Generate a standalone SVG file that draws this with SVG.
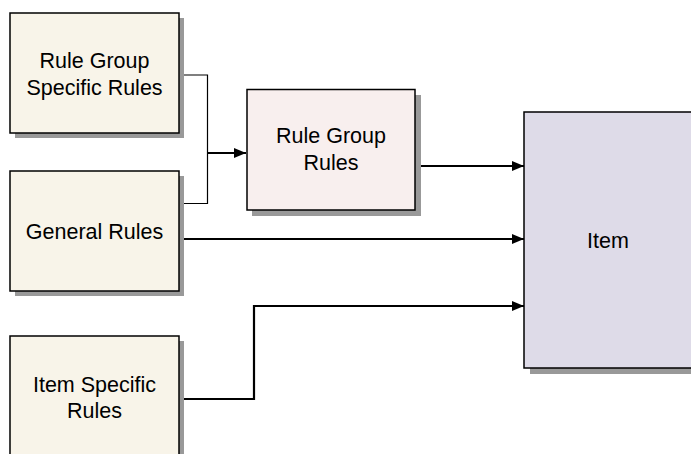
<svg xmlns="http://www.w3.org/2000/svg" width="691" height="454" viewBox="0 0 691 454">
<defs>
<marker id="arr" markerWidth="12" markerHeight="10" refX="12" refY="5" orient="auto" markerUnits="userSpaceOnUse">
<path d="M0,0 L12,5 L0,10 Z" fill="#000"/>
</marker>
<style>
.shadow{fill:#999999;stroke:none}
.box{stroke:#000;stroke-width:1.5}
.beige{fill:#F8F4E9}
.pink{fill:#F8EFEE}
.lav{fill:#DEDBE8}
.lbl{font-family:"Liberation Sans",Arial,sans-serif;font-size:21.5px;fill:#000;text-anchor:middle}
.thin{fill:none;stroke:#000;stroke-width:1.2}
.thick{fill:none;stroke:#000;stroke-width:2.2}
</style>
</defs>
<rect width="691" height="454" fill="#fff"/>
<g id="connectors">
<polyline class="thin" points="180,75 207.5,75 207.5,203.5 180,203.5"/>
<line class="thick" x1="207.5" y1="153" x2="246" y2="153" marker-end="url(#arr)"/>
<line class="thick" x1="419" y1="166" x2="524" y2="166" marker-end="url(#arr)"/>
<line class="thick" x1="183" y1="239" x2="524" y2="239" marker-end="url(#arr)"/>
<polyline class="thick" points="183,399 254,399 254,306 524,306" marker-end="url(#arr)"/>
</g>
<g id="rule-group-specific-rules">
<rect class="shadow" x="15" y="18" width="169" height="120"/>
<rect class="box beige" x="10" y="13" width="169" height="120"/>
<text class="lbl" x="94.5" y="68">Rule Group</text>
<text class="lbl" x="94.5" y="95">Specific Rules</text>
</g>
<g id="general-rules">
<rect class="shadow" x="15" y="176" width="169" height="120"/>
<rect class="box beige" x="10" y="171" width="169" height="120"/>
<text class="lbl" x="94.5" y="239">General Rules</text>
</g>
<g id="item-specific-rules">
<rect class="shadow" x="15" y="341" width="169" height="120"/>
<rect class="box beige" x="10" y="336" width="169" height="120"/>
<text class="lbl" x="94.5" y="392">Item Specific</text>
<text class="lbl" x="94.5" y="418">Rules</text>
</g>
<g id="rule-group-rules">
<rect class="shadow" x="252" y="95" width="169" height="121"/>
<rect class="box pink" x="247" y="89.5" width="168" height="120.5"/>
<text class="lbl" x="331" y="143">Rule Group</text>
<text class="lbl" x="331" y="170">Rules</text>
</g>
<g id="item">
<rect class="shadow" x="530" y="118" width="170" height="256"/>
<rect class="box lav" x="524" y="112" width="170" height="256"/>
<text class="lbl" x="608" y="248">Item</text>
</g>
</svg>
